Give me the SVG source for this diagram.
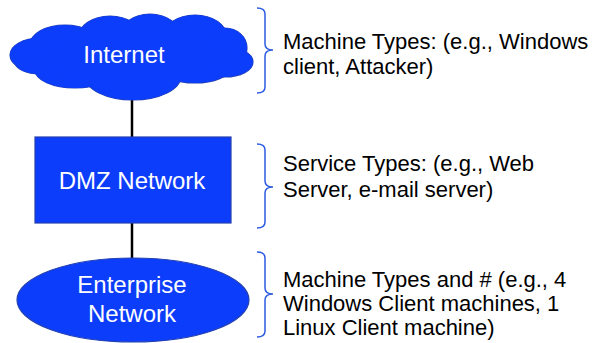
<svg xmlns="http://www.w3.org/2000/svg" width="597" height="343" viewBox="0 0 597 343">
<style>
.node{fill:#0B3DFB;stroke:#2440B0;stroke-width:1.2}
.fillonly{fill:#0B3DFB;stroke:none}
.lbl{font-family:"Liberation Sans",Arial,sans-serif;font-size:24px;fill:#ffffff;text-anchor:middle}
.note{font-family:"Liberation Sans",Arial,sans-serif;font-size:22px;fill:#000000}
.brace{fill:none;stroke:#2D5BE3;stroke-width:1.5}
.conn{stroke:#000000;stroke-width:2.5}
</style>
<defs>
<g id="cloudshape">
<ellipse cx="40" cy="55" rx="30" ry="17"/>
<ellipse cx="65" cy="45" rx="35" ry="20"/>
<ellipse cx="110" cy="38" rx="32" ry="22"/>
<ellipse cx="150" cy="36" rx="30" ry="22"/>
<ellipse cx="195" cy="37" rx="32" ry="22"/>
<ellipse cx="225" cy="48" rx="22" ry="20"/>
<ellipse cx="225" cy="62" rx="28" ry="15"/>
<ellipse cx="195" cy="68" rx="35" ry="15"/>
<ellipse cx="133" cy="76" rx="48" ry="24"/>
<ellipse cx="75" cy="70" rx="40" ry="18"/>
<ellipse cx="40" cy="62" rx="25" ry="12"/>
<ellipse cx="135" cy="56" rx="95" ry="24"/>
</g>
</defs>
<rect width="597" height="343" fill="#ffffff"/>
<g id="connectors">
<line class="conn" x1="132" y1="95" x2="132" y2="138"/>
<line class="conn" x1="132" y1="222" x2="132" y2="258"/>
</g>
<g id="internet">
<use href="#cloudshape" class="node"/>
<use href="#cloudshape" class="fillonly"/>
<text class="lbl" x="124" y="63">Internet</text>
</g>
<g id="dmz">
<rect class="node" x="35" y="137" width="196" height="86"/>
<text class="lbl" x="132" y="189">DMZ Network</text>
</g>
<g id="enterprise">
<ellipse class="node" cx="133" cy="300" rx="116" ry="42"/>
<text class="lbl" x="132" y="293">Enterprise</text>
<text class="lbl" x="132" y="322">Network</text>
</g>
<g id="note-internet">
<path class="brace" d="M257,8 Q265,8 265,14 L265,44 Q265,50 273,50 Q265,50 265,56 L265,87 Q265,93 257,93"/>
<text class="note" x="283" y="49">Machine Types: (e.g., Windows</text>
<text class="note" x="283" y="74">client, Attacker)</text>
</g>
<g id="note-dmz">
<path class="brace" d="M257,144 Q265,144 265,150 L265,181 Q265,187 273,187 Q265,187 265,193 L265,222 Q265,228 257,228"/>
<text class="note" x="283" y="171">Service Types: (e.g., Web</text>
<text class="note" x="283" y="197">Server, e-mail server)</text>
</g>
<g id="note-enterprise">
<path class="brace" d="M257,252 Q265,252 265,258 L265,288 Q265,294 273,294 Q265,294 265,300 L265,331 Q265,337 257,337"/>
<text class="note" x="283" y="287">Machine Types and # (e.g., 4</text>
<text class="note" x="283" y="311">Windows Client machines, 1</text>
<text class="note" x="283" y="335">Linux Client machine)</text>
</g>
</svg>
